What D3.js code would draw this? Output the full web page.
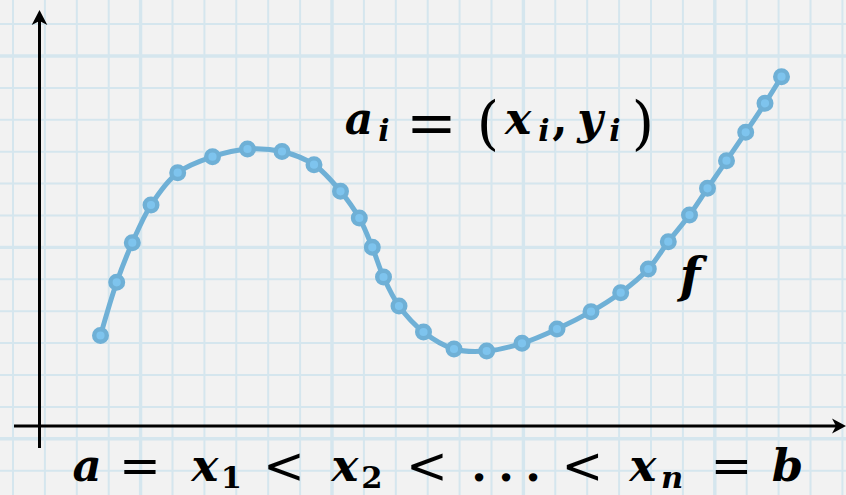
<!DOCTYPE html>
<html>
<head>
<meta charset="utf-8">
<script src="https://cdn.jsdelivr.net/npm/d3@7"></script>
<style>
  html, body { margin: 0; padding: 0; background: #f2f2f2; }
  svg { display: block; }
</style>
</head>
<body>
<svg id="chart" width="846" height="495"></svg>
<script>
// Sample points a_i = (x_i, y_i) taken along the curve f
const xValues = [0.61, 0.772, 0.928, 1.115, 1.382, 1.73, 2.08, 2.425, 2.745, 3.01,
                 3.198, 3.328, 3.44, 3.595, 3.84, 4.145, 4.472, 4.825, 5.175, 5.515,
                 5.812, 6.088, 6.288, 6.5, 6.68, 6.87, 7.062, 7.255, 7.42];
const yValues = [0.905, 1.437, 1.833, 2.21, 2.533, 2.693, 2.77, 2.745, 2.613, 2.347,
                 2.08, 1.787, 1.49, 1.2, 0.94, 0.77, 0.75, 0.827, 0.97, 1.143,
                 1.333, 1.57, 1.843, 2.11, 2.377, 2.653, 2.937, 3.227, 3.493];

// Axis extents (data units)
const xAxisExtent = [-0.255, 8.065];
const yAxisExtent = [-0.22, 4.16];

const W = 846, H = 495;
const svg = d3.select("#chart");

const x = d3.scaleLinear().domain([0, 8]).range([39.5, 839.5]);
const y = d3.scaleLinear().domain([0, 4]).range([426, 26]);

const points = xValues.map((v, i) => ({ x: v, y: yValues[i] }));

// ---- graph-paper background ----
const defs = svg.append("defs");
defs.append("filter").attr("id", "soft")
  .append("feGaussianBlur").attr("stdDeviation", 0.7);

svg.append("rect").attr("width", W).attr("height", H).attr("fill", "#f2f2f2");

const step = 31.9;
const gx = d3.range(13, W + 1, step);
const gy = d3.range(24.1 - step, H + 1, step);
const grid = svg.append("g").attr("filter", "url(#soft)");
grid.selectAll("line.v").data(gx).join("line")
  .attr("x1", d => d).attr("x2", d => d).attr("y1", 0).attr("y2", H)
  .attr("stroke", "#d5e6ee")
  .attr("stroke-width", (d, i) => (i % 6 === 4 ? 3.4 : 2));
grid.selectAll("line.h").data(gy).join("line")
  .attr("y1", d => d).attr("y2", d => d).attr("x1", 0).attr("x2", W)
  .attr("stroke", "#d5e6ee")
  .attr("stroke-width", (d, i) => (i % 6 === 2 ? 3.4 : 2));

// ---- axes with stealth arrowheads ----
const axes = svg.append("g").attr("stroke", "#000").attr("fill", "#000");
const x0 = x(0), y0 = y(0);
axes.append("line")
  .attr("x1", x(xAxisExtent[0])).attr("x2", x(xAxisExtent[1]) - 10)
  .attr("y1", y0).attr("y2", y0).attr("stroke-width", 3);
axes.append("line")
  .attr("x1", x0).attr("x2", x0)
  .attr("y1", y(yAxisExtent[0])).attr("y2", y(yAxisExtent[1]) + 10)
  .attr("stroke-width", 3);

const tipX = x(xAxisExtent[1]), tipY = y(yAxisExtent[1]);
axes.append("path").attr("stroke", "none")
  .attr("d", `M${tipX},${y0} L${tipX - 14},${y0 - 7.5} L${tipX - 10},${y0} L${tipX - 14},${y0 + 7.5} Z`);
axes.append("path").attr("stroke", "none")
  .attr("d", `M${x0},${tipY} L${x0 - 7.8},${tipY + 15} L${x0},${tipY + 11} L${x0 + 7.8},${tipY + 15} Z`);

// ---- the curve f and its sample points ----
const line = d3.line().x(d => x(d.x)).y(d => y(d.y)).curve(d3.curveCatmullRom.alpha(0.5));
svg.append("path").datum(points)
  .attr("d", line)
  .attr("fill", "none")
  .attr("stroke", "#6fb0d6")
  .attr("stroke-width", 5)
  .attr("stroke-linejoin", "round")
  .attr("stroke-linecap", "round");

svg.append("g").selectAll("circle").data(points).join("circle")
  .attr("cx", d => x(d.x)).attr("cy", d => y(d.y))
  .attr("r", 6.3)
  .attr("fill", "#7ec4ee")
  .attr("stroke", "#6fb0d6")
  .attr("stroke-width", 4.4);

// ---- math labels ----
// kinds: v = variable (bold italic), sub/subv = subscript, rel = relation symbol,
// paren = delimiter, p = punctuation
const FONT = "DejaVu Serif";
function mathLabel(tokens, baseline, size, relScale, relDy) {
  const g = svg.append("g").attr("font-family", FONT).attr("fill", "#000");
  const style = {
    v:     { fs: size,            dy: 0,           w: "bold",   it: true },
    sub:   { fs: size * 0.68,     dy: size * 0.15, w: "bold",   it: false },
    subv:  { fs: size * 0.68,     dy: size * 0.15, w: "bold",   it: true },
    rel:   { fs: size * relScale, dy: relDy,       w: "normal", it: false },
    paren: { fs: size * 1.3,      dy: size * 0.2,  w: "normal", it: false },
    p:     { fs: size,            dy: 0,           w: "bold",   it: false }
  };
  tokens.forEach(t => {
    const st = style[t.k];
    g.append("text")
      .attr("x", t.cx)
      .attr("y", baseline + st.dy)
      .attr("text-anchor", "middle")
      .attr("font-size", st.fs)
      .attr("font-weight", st.w)
      .attr("font-style", st.it ? "italic" : "normal")
      .text(t.s);
  });
}

mathLabel([
  { s: "a", cx: 359, k: "v" },
  { s: "i", cx: 384, k: "subv" },
  { s: "=", cx: 431.5, k: "rel" },
  { s: "(", cx: 488, k: "paren" },
  { s: "x", cx: 518, k: "v" },
  { s: "i", cx: 544, k: "subv" },
  { s: ",", cx: 560, k: "p" },
  { s: "y", cx: 590, k: "v" },
  { s: "i", cx: 615, k: "subv" },
  { s: ")", cx: 643, k: "paren" }
], 134, 44, 1.38, 10);

mathLabel([
  { s: "a", cx: 87, k: "v" },
  { s: "=", cx: 140, k: "rel" },
  { s: "x", cx: 205, k: "v" },
  { s: "1", cx: 231.5, k: "sub" },
  { s: "<", cx: 284, k: "rel" },
  { s: "x", cx: 345, k: "v" },
  { s: "2", cx: 372, k: "sub" },
  { s: "<", cx: 427, k: "rel" },
  { s: ".", cx: 479, k: "p" },
  { s: ".", cx: 506, k: "p" },
  { s: ".", cx: 533, k: "p" },
  { s: "<", cx: 582.5, k: "rel" },
  { s: "x", cx: 643, k: "v" },
  { s: "n", cx: 672, k: "subv" },
  { s: "=", cx: 731.5, k: "rel" },
  { s: "b", cx: 787.5, k: "v" }
], 481, 45, 1.11, 2);

svg.append("text")
  .attr("x", 690).attr("y", 292)
  .attr("text-anchor", "middle")
  .attr("font-family", FONT)
  .attr("font-size", 48)
  .attr("font-weight", "bold")
  .attr("font-style", "italic")
  .text("f");
</script>
</body>
</html>
